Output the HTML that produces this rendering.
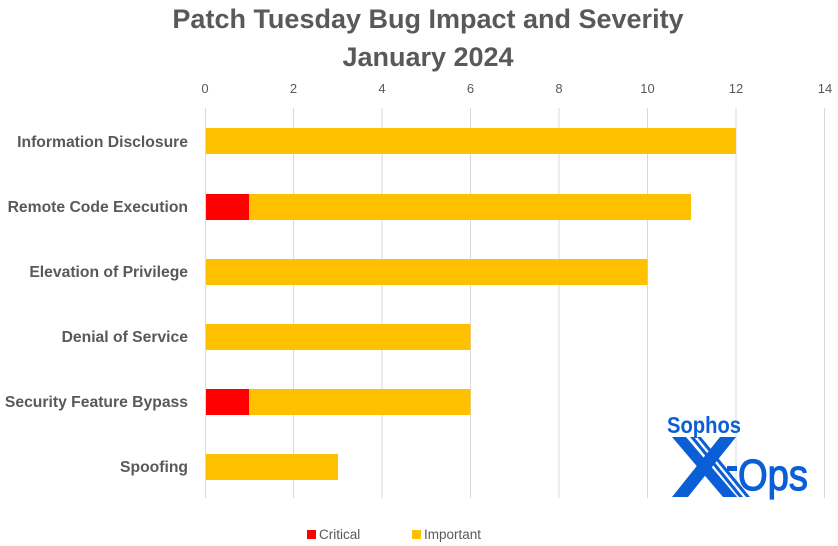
<!DOCTYPE html>
<html><head><style>
body{margin:0;background:#fff;}
svg{display:block;font-family:"Liberation Sans",sans-serif;}
</style></head><body>
<svg width="838" height="546" viewBox="0 0 838 546">
<text x="428" y="28" text-anchor="middle" font-size="27" font-weight="bold" fill="#595959">Patch Tuesday Bug Impact and Severity</text>
<text x="428" y="66" text-anchor="middle" font-size="27" font-weight="bold" fill="#595959">January 2024</text>
<g stroke="#d9d9d9" stroke-width="1">
<line x1="205.5" y1="108" x2="205.5" y2="498"/>
<line x1="293.5" y1="108" x2="293.5" y2="498"/>
<line x1="382" y1="108" x2="382" y2="498"/>
<line x1="470.5" y1="108" x2="470.5" y2="498"/>
<line x1="559" y1="108" x2="559" y2="498"/>
<line x1="647.5" y1="108" x2="647.5" y2="498"/>
<line x1="736" y1="108" x2="736" y2="498"/>
<line x1="824.5" y1="108" x2="824.5" y2="498"/>
</g>
<g font-size="13" fill="#595959" text-anchor="middle">
<text x="205" y="93">0</text><text x="293.5" y="93">2</text><text x="382" y="93">4</text><text x="470.5" y="93">6</text><text x="559" y="93">8</text><text x="647.5" y="93">10</text><text x="736" y="93">12</text><text x="825" y="93">14</text>
</g>
<g fill="#ffc000">
<rect x="206" y="128" width="530" height="26"/>
<rect x="249" y="194" width="442" height="26"/>
<rect x="206" y="259" width="441.5" height="26"/>
<rect x="206" y="324" width="264.5" height="26"/>
<rect x="249" y="389" width="221.5" height="26"/>
<rect x="206" y="454" width="132" height="26"/>
</g>
<g fill="#ff0000">
<rect x="206" y="194" width="43" height="26"/>
<rect x="206" y="389" width="43" height="26"/>
</g>
<g font-size="15.7" font-weight="bold" fill="#595959" text-anchor="end">
<text x="188" y="147">Information Disclosure</text>
<text x="188" y="212">Remote Code Execution</text>
<text x="188" y="277">Elevation of Privilege</text>
<text x="188" y="342">Denial of Service</text>
<text x="188" y="407">Security Feature Bypass</text>
<text x="188" y="472">Spoofing</text>
</g>
<rect x="307" y="530" width="9" height="9" fill="#ff0000"/>
<text x="319" y="539" font-size="13.5" fill="#595959">Critical</text>
<rect x="412" y="530" width="9" height="9" fill="#ffc000"/>
<text x="424" y="539" font-size="13.5" fill="#595959">Important</text>
<g fill="#0b5fd6">
<text x="667" y="433" font-size="23" font-weight="bold" textLength="74" lengthAdjust="spacingAndGlyphs">Sophos</text>
<polygon points="672,437 686,437 737,497 723,497"/>
<polygon points="720,437 736,437 688,497 672,497"/>
<polygon points="690,437 694,437 743,497 739,497" />
<polygon points="697,437 701,437 750,497 746,497"/>
<rect x="727" y="466" width="10" height="5"/>
<text x="738" y="490" font-size="44" stroke="#0b5fd6" stroke-width="1.2" textLength="70" lengthAdjust="spacingAndGlyphs">Ops</text>
</g>
</svg>
</body></html>
